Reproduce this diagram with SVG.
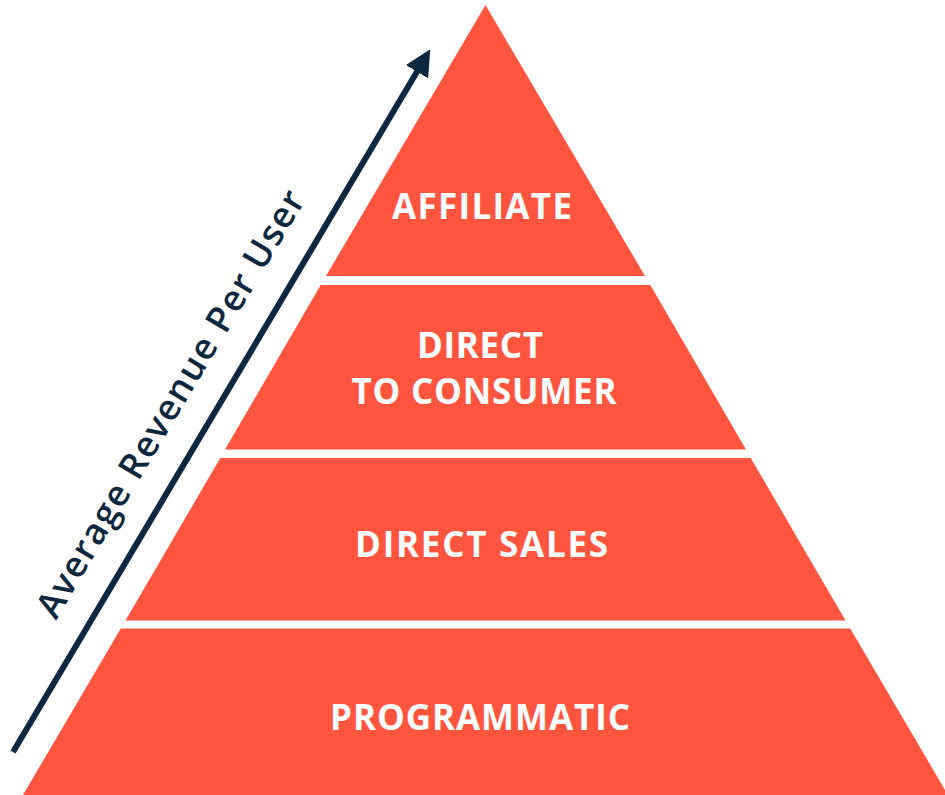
<svg xmlns="http://www.w3.org/2000/svg" width="945" height="795" viewBox="0 0 945 795">
<style>
.band{fill:#FF553E}
.lbl{fill:#FFFFFF;font-family:"Open Sans","Liberation Sans",sans-serif;font-weight:700;font-size:35px;text-anchor:middle}
.axis{fill:#0C2840;font-family:"Open Sans","Liberation Sans",sans-serif;font-weight:600;font-size:36px;text-anchor:middle}
</style>
<defs>
<marker id="ah" markerUnits="userSpaceOnUse" markerWidth="26" markerHeight="26" viewBox="0 0 26 26" refX="2" refY="13" orient="auto">
<path d="M0,0 L26,13 L0,26 Z" fill="#0C2840"/>
</marker>
</defs>
<rect width="945" height="795" fill="#FFFFFF"/>
<g id="connectors">
<line x1="13" y1="752" x2="418" y2="70" stroke="#0C2840" stroke-width="6" marker-end="url(#ah)"/>
</g>
<text class="axis" x="181" y="410" transform="rotate(-59.3 181 410)" textLength="490">Average Revenue Per User</text>
<g id="affiliate">
<polygon class="band" points="485.5,5 645,276 326,276"/>
<text class="lbl" x="482" y="219" textLength="180">AFFILIATE</text>
</g>
<g id="direct-to-consumer">
<polygon class="band" points="320.7,285 650.3,285 746,449.5 225,449.5"/>
<text class="lbl" x="480" y="358" textLength="126">DIRECT</text>
<text class="lbl" x="484" y="404" textLength="265">TO CONSUMER</text>
</g>
<g id="direct-sales">
<polygon class="band" points="220.3,458 750.7,458 845.5,620.5 125.5,620.5"/>
<text class="lbl" x="481.5" y="557" textLength="253">DIRECT SALES</text>
</g>
<g id="programmatic">
<polygon class="band" points="120.8,628.5 850.2,628.5 948,795 23,795"/>
<text class="lbl" x="480" y="730" textLength="300">PROGRAMMATIC</text>
</g>
</svg>
